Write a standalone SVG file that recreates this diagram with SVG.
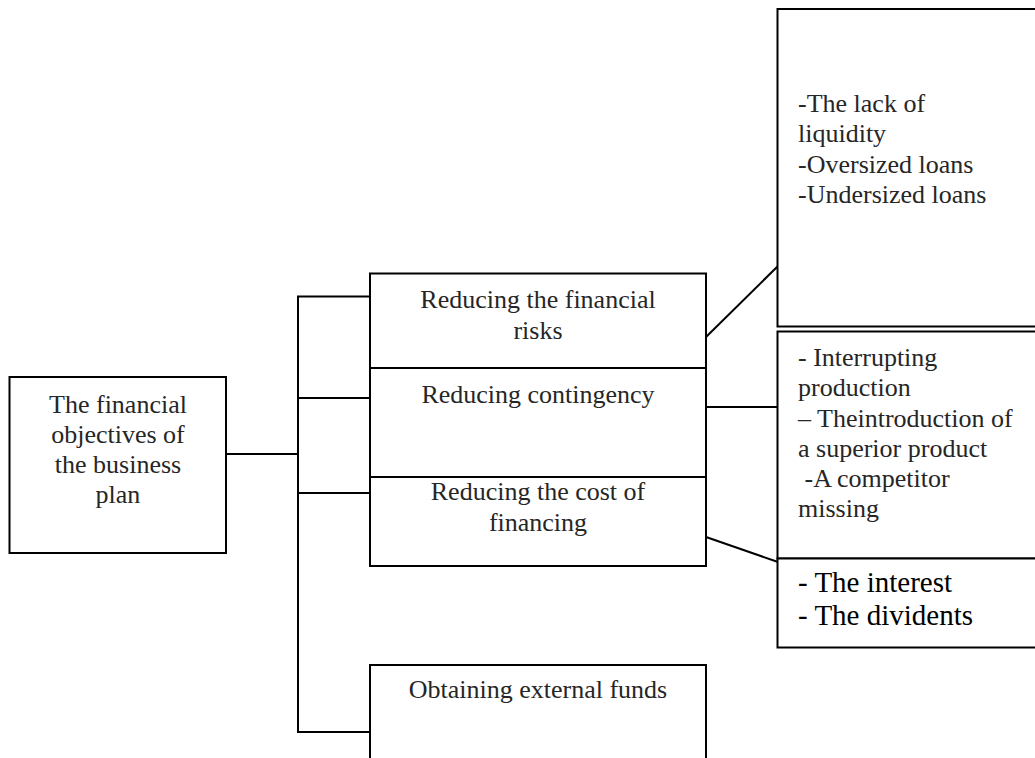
<svg xmlns="http://www.w3.org/2000/svg" width="1035" height="758" viewBox="0 0 1035 758">
<style>
.box{fill:#fff;stroke:#000;stroke-width:2}
.ln{fill:none;stroke:#000;stroke-width:2}
.t{font-family:"Liberation Serif","Times New Roman",serif;font-size:26px;fill:#262626}
.c{text-anchor:middle}
.b{font-size:29px;fill:#000}
</style>
<rect width="1035" height="758" fill="#fff"/>
<g id="connectors">
<polyline class="ln" points="226,454 298,454"/>
<polyline class="ln" points="370,296.5 298,296.5 298,732 370,732"/>
<line class="ln" x1="298" y1="398" x2="370" y2="398"/>
<line class="ln" x1="298" y1="493" x2="370" y2="493"/>
<line class="ln" x1="706" y1="337" x2="778" y2="266"/>
<line class="ln" x1="706" y1="407" x2="778" y2="407"/>
<line class="ln" x1="706" y1="537" x2="778" y2="562"/>
</g>
<g id="root">
<rect class="box" x="9.5" y="377" width="216.5" height="176"/>
<text class="t c" x="118" y="413">The financial</text>
<text class="t c" x="118" y="443">objectives of</text>
<text class="t c" x="118" y="473">the business</text>
<text class="t c" x="118" y="503">plan</text>
</g>
<g id="risks">
<rect class="box" x="370" y="273.5" width="336" height="94.5"/>
<text class="t c" x="538" y="308">Reducing the financial</text>
<text class="t c" x="538" y="339">risks</text>
</g>
<g id="contingency">
<rect class="box" x="370" y="368" width="336" height="109"/>
<text class="t c" x="538" y="403">Reducing contingency</text>
</g>
<g id="cost">
<rect class="box" x="370" y="477" width="336" height="89"/>
<text class="t c" x="538" y="500">Reducing the cost of</text>
<text class="t c" x="538" y="531">financing</text>
</g>
<g id="funds">
<rect class="box" x="370" y="665" width="336" height="110"/>
<text class="t c" x="538" y="698">Obtaining external funds</text>
</g>
<g id="risks-detail">
<rect class="box" x="777.5" y="9" width="270" height="317.5"/>
<text class="t" x="798" y="112">-The lack of</text>
<text class="t" x="798" y="142">liquidity</text>
<text class="t" x="798" y="173">-Oversized loans</text>
<text class="t" x="798" y="203">-Undersized loans</text>
</g>
<g id="contingency-detail">
<rect class="box" x="777.5" y="331.5" width="270" height="227"/>
<text class="t" x="798" y="366">- Interrupting</text>
<text class="t" x="798" y="396">production</text>
<text class="t" x="798" y="427">– Theintroduction of</text>
<text class="t" x="798" y="457">a superior product</text>
<text class="t" x="798" y="487" xml:space="preserve"> -A competitor</text>
<text class="t" x="798" y="517">missing</text>
</g>
<g id="cost-detail">
<rect class="box" x="777.5" y="558.5" width="270" height="89"/>
<text class="t b" x="798" y="592">- The interest</text>
<text class="t b" x="798" y="625">- The dividents</text>
</g>
</svg>
